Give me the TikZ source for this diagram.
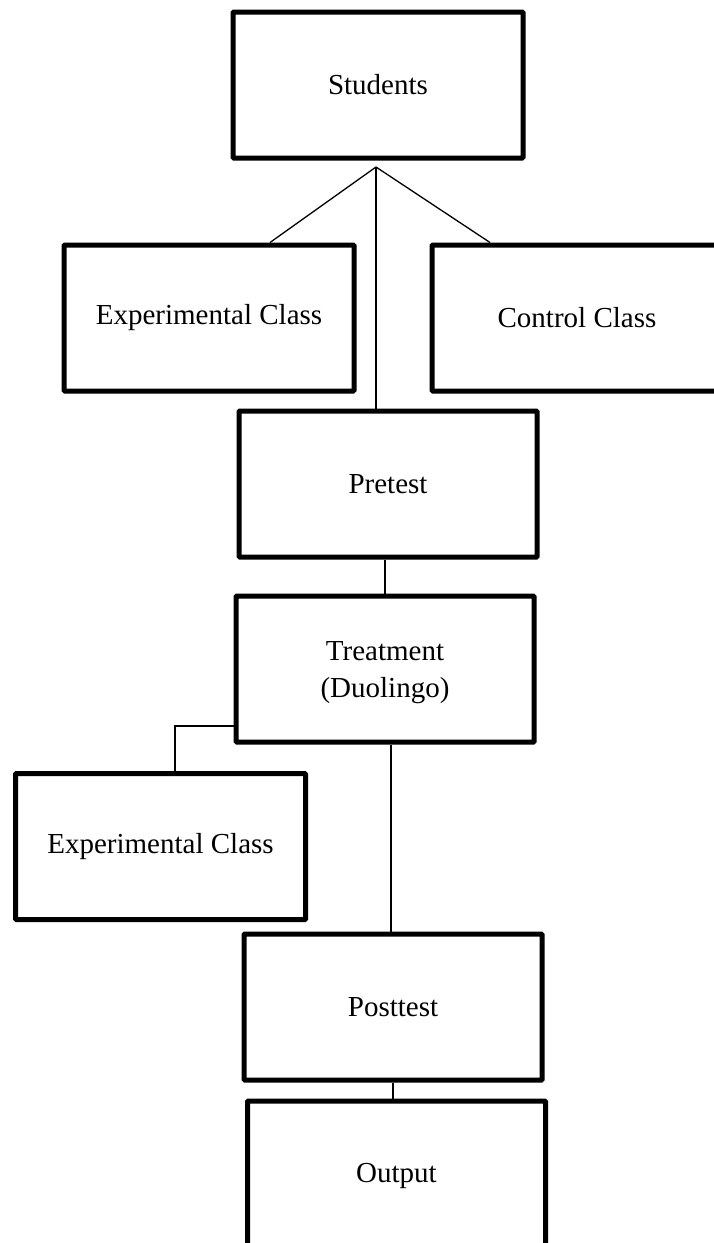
\documentclass[tikz,border=0pt]{standalone}
\usepackage{fontspec}
\setmainfont{Liberation Serif}
\begin{document}
\begin{tikzpicture}[x=1pt,y=-1pt,
  box/.style={draw=black,line width=5pt,rectangle,rounded corners=0.8pt,
    minimum width=290pt,minimum height=146pt,inner sep=0pt,align=center,
    font=\fontsize{29}{37}\selectfont},
  wide/.style={minimum width=298pt},
  conn/.style={draw=black,line width=1.3pt}]
\useasboundingbox (0,0) rectangle (714,1243);
\clip (0,0) rectangle (714,1243);
\node[box] (students) at (378,85) {Students};
\node[box] (exp1) at (209,318) {Experimental Class};
\node[box] (ctrl) at (577,318) {Control Class};
\node[box,wide] (pre) at (388,484) {Pretest};
\node[box,wide] (treat) at (385,669) {};
\node[align=center,inner sep=0pt,font=\fontsize{29}{37}\selectfont] (treattext) at (385,673) {Treatment\\(Duolingo)};
\node[box] (exp2) at (160.5,846.5) {Experimental Class};
\node[box,wide] (post) at (393,1007) {Posttest};
\node[box,wide,minimum height=150pt] (out) at (396.5,1176) {Output};
\coordinate (apex) at (376,167);
\draw[conn] (apex) -- ([xshift=61pt]exp1.north);
\draw[conn] (apex) -- ([xshift=-87pt]ctrl.north);
\draw[conn] (apex) -- (apex |- pre.north);
\draw[conn] (pre.south -| treat.north) -- (treat.north);
\draw[conn] ([yshift=-57pt]treat.west) -| ([xshift=14.5pt]exp2.north);
\draw[conn] ([xshift=6pt]treat.south) -- ([xshift=6pt]treat.south |- post.north);
\draw[conn] (post.south) -- (post.south |- out.north);
\end{tikzpicture}
\end{document}
